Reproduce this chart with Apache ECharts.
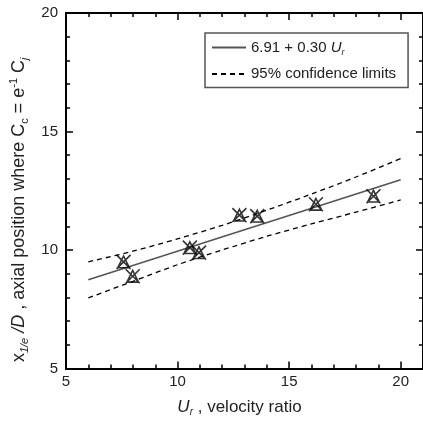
<!DOCTYPE html>
<html><head><meta charset="utf-8">
<script src="https://cdn.jsdelivr.net/npm/echarts@6/dist/echarts.min.js"></script>
<style>html,body{margin:0;padding:0;background:#fff}#c{width:423px;height:423px}</style>
</head><body><div id="c"></div>
<script>
// measured points (U_r, x_1/e / D)
const pointsUr = [7.58, 7.99, 10.55, 10.96, 12.77, 13.57, 16.2, 18.78];
const pointsX = [9.50, 8.89, 10.10, 9.89, 11.47, 11.43, 11.93, 12.27];
// fitted line 6.91 + 0.30 Ur (end points as read)
const fitUr = [6, 20];
const fitX = [8.74, 12.96];
// 95% confidence limits
const ciUr = [6, 8, 10, 12, 14, 16, 18, 20];
const ciUpper = [9.50, 9.95, 10.47, 11.04, 11.68, 12.36, 13.08, 13.86];
const ciLower = [7.98, 8.68, 9.38, 10.00, 10.58, 11.10, 11.60, 12.11];
const xTicks = [5, 10, 15, 20];
const yTicks = [5, 10, 15, 20];

const FONT = "'Liberation Sans', Arial, sans-serif";
const pair = (a, b) => a.map((v, i) => [v, b[i]]);
const chart = echarts.init(document.getElementById('c'), null, {renderer: 'canvas'});
const line = {color: '#000', width: 2};
function xa(pos, interval, len, labels) {
  return {type: 'value', position: pos, min: 5, max: 21, interval: interval,
    axisLine: {show: true, onZero: false, lineStyle: line},
    axisTick: {show: true, inside: true, length: len, lineStyle: {color: '#000', width: 1.5}},
    axisLabel: {show: labels, showMaxLabel: false, margin: 6, color: '#222', fontSize: 15, fontFamily: FONT},
    splitLine: {show: false}};
}
function ya(pos, labels) {
  return {type: 'value', position: pos, min: 5, max: 20, interval: 5,
    axisLine: {show: true, onZero: false, lineStyle: line},
    axisTick: {show: true, inside: true, length: 7, lineStyle: {color: '#000', width: 1.5}},
    minorTick: {show: true, splitNumber: 5, length: 4, lineStyle: {color: '#000', width: 1.5}},
    axisLabel: {show: labels, margin: 8, color: '#222', fontSize: 15, fontFamily: FONT},
    splitLine: {show: false}};
}
const xAxes = [xa('bottom', 5, 7, true), xa('bottom', 1, 4, false), xa('top', 5, 7, false), xa('top', 1, 4, false)];
xAxes[0].name = '{i|U}{sub|r}{n| , velocity ratio}';
xAxes[0].nameLocation = 'middle';
xAxes[0].nameGap = 29;
xAxes[0].nameTextStyle = {fontFamily: FONT, fontSize: 17, color: '#222', padding: [0, 10, 0, 0], rich: {
  n: {fontSize: 17, fontFamily: FONT, color: '#222', lineHeight: 20, verticalAlign: 'middle'},
  i: {fontSize: 17, fontFamily: FONT, fontStyle: 'italic', color: '#222', lineHeight: 20, verticalAlign: 'middle'},
  sub: {fontSize: 10, fontFamily: FONT, fontStyle: 'italic', color: '#222', lineHeight: 10, verticalAlign: 'bottom'}}};
const yAxes = [ya('left', true), ya('right', false)];
yAxes[0].name = '{n|x}{sub|1/e}{i| /D}{n| , axial position where C}{subn|c}{n| = e}{sup|-1}{n| C}{sub|j}';
yAxes[0].nameLocation = 'middle';
yAxes[0].nameGap = 34;
yAxes[0].nameTextStyle = {fontFamily: FONT, fontSize: 18, color: '#222', padding: [0, 38, 0, 0], rich: {
  n: {fontSize: 18, fontFamily: FONT, color: '#222', lineHeight: 22, verticalAlign: 'middle'},
  i: {fontSize: 18, fontFamily: FONT, fontStyle: 'italic', color: '#222', lineHeight: 22, verticalAlign: 'middle'},
  sub: {fontSize: 11, fontFamily: FONT, fontStyle: 'italic', color: '#222', lineHeight: 11, verticalAlign: 'bottom'},
  subn: {fontSize: 11, fontFamily: FONT, color: '#222', lineHeight: 11, verticalAlign: 'bottom'},
  sup: {fontSize: 11, fontFamily: FONT, color: '#222', lineHeight: 11, verticalAlign: 'top'}}};

const marker = 'path://M0,0 L12,12 M12,0 L0,12 M6,1 L1,11 L11,11 Z';
chart.setOption({
  animation: false,
  backgroundColor: '#fff',
  grid: {left: 66, top: 13, width: 358.7, height: 355.5, containLabel: false},
  xAxis: xAxes,
  yAxis: yAxes,
  legend: {
    left: 205, top: 33, orient: 'vertical', padding: [7, 12, 6, 6],
    borderColor: '#555', borderWidth: 1.5, backgroundColor: '#fff',
    itemWidth: 34, itemHeight: 14, itemGap: 10, itemTextGap: 3, align: 'left',
    data: [{name: 'fit', itemStyle: {opacity: 0}}, {name: '95% confidence limits', itemStyle: {opacity: 0}}],
    formatter: function (n) { return n === 'fit' ? '{n|6.91 + 0.30 }{i|U}{sub|r}' : '{n|' + n + '}'; },
    textStyle: {fontFamily: FONT, fontSize: 15, color: '#222', rich: {
      n: {fontSize: 15, fontFamily: FONT, color: '#222', lineHeight: 18, verticalAlign: 'middle'},
      i: {fontSize: 15, fontFamily: FONT, fontStyle: 'italic', color: '#222', lineHeight: 18, verticalAlign: 'middle'},
      sub: {fontSize: 9, fontFamily: FONT, fontStyle: 'italic', color: '#222', lineHeight: 9, verticalAlign: 'bottom'}}}
  },
  series: [
    {name: 'fit', type: 'line', data: pair(fitUr, fitX), symbol: 'none', z: 3,
      lineStyle: {color: '#555', width: 1.6}, itemStyle: {color: '#444'}},
    {name: '95% confidence limits', type: 'line', data: pair(ciUr, ciUpper), smooth: 0.3, symbol: 'none', z: 3,
      lineStyle: {color: '#000', width: 1.3, type: [5, 4]}, itemStyle: {color: '#000'}},
    {name: '95% confidence limits', type: 'line', data: pair(ciUr, ciLower), smooth: 0.3, symbol: 'none', z: 3,
      lineStyle: {color: '#000', width: 1.3, type: [5, 4]}, itemStyle: {color: '#000'}},
    {name: 'data', type: 'scatter', data: pair(pointsUr, pointsX), symbol: marker, symbolSize: 14, z: 4,
      itemStyle: {color: 'rgba(0,0,0,0)', borderColor: '#000', borderWidth: 1.6}}
  ]
});
</script></body></html>
